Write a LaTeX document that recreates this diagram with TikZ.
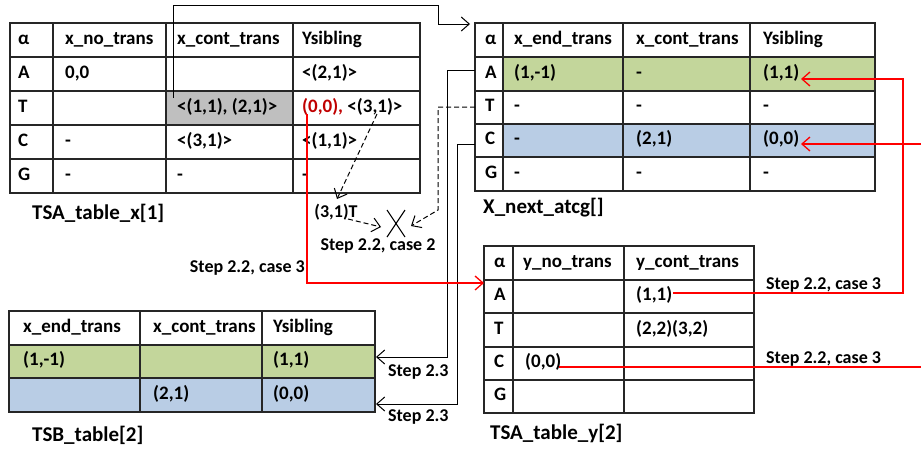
\documentclass[tikz,border=0pt]{standalone}
\usepackage{fontspec}
\setmainfont{Carlito}
\usetikzlibrary{arrows.meta}
\definecolor{rowgreen}{HTML}{C3D69B}
\definecolor{rowblue}{HTML}{B9CDE5}
\definecolor{cellgray}{HTML}{BFBFBF}
\definecolor{textred}{HTML}{C00000}
\tikzset{
  grid/.style={line width=1.4pt, draw=black!85},
  cell/.style={anchor=west, inner sep=0pt, text height=12pt, text depth=4pt,
               font=\bfseries\fontsize{19}{21}\selectfont},
  caption/.style={anchor=west, inner sep=0pt, font=\bfseries\fontsize{21}{23}\selectfont},
  steplabel/.style={inner sep=0pt, font=\bfseries\fontsize{18}{20}\selectfont},
  tip/.style={-{Straight Barb[length=8pt,width=14pt]}},
  link/.style={line width=1pt, draw=black, tip},
  dlink/.style={line width=1pt, draw=black, dash pattern=on 5pt off 3pt, tip},
  rlink/.style={line width=1.3pt, red},
}
\begin{document}
\begin{tikzpicture}[x=1pt,y=-1pt]
\useasboundingbox (0,0) rectangle (921,450);

% ---------- TSA_table_x[1] ----------
\fill[cellgray] (166,91) rectangle (293,125);
\draw[grid] (10,23) rectangle (420,193);
\foreach \x in {53,166,293} \draw[grid] (\x,23) -- (\x,193);
\foreach \y in {57,91,125,159} \draw[grid] (10,\y) -- (420,\y);
\node[cell] (xa0) at (18,40) {α};
\node[cell] (xa1) at (65,40) {x\_no\_trans};
\node[cell] (xa2) at (177,40) {x\_cont\_trans};
\node[cell] (xa3) at (302,40) {Ysibling};
\node[cell] (xA0) at (18,74) {A};
\node[cell] (xA1) at (65,74) {0,0};
\node[cell] (xA3) at (302,74) {<(2,1)>};
\node[cell] (xT0) at (18,108) {T};
\node[cell] (xT2) at (177,108) {<(1,1), (2,1)>};
\node[cell, text=textred] (xT3r) at (302,108) {(0,0),};
\node[cell] (xT3) at ([xshift=4pt]xT3r.east) {<(3,1)>};
\node[cell] (xC0) at (18,142) {C};
\node[cell] (xC1) at (65,142) {-};
\node[cell] (xC2) at (177,142) {<(3,1)>};
\node[cell] (xC3) at (302,142) {<(1,1)>};
\node[cell] (xG0) at (18,176) {G};
\node[cell] (xG1) at (65,176) {-};
\node[cell] (xG2) at (177,176) {-};
\node[cell] (xG3) at (302,176) {-};
\node[caption] (capx) at (32,213) {TSA\_table\_x[1]};

% ---------- X_next_atcg[] ----------
\fill[rowgreen] (503,57) rectangle (875,91);
\fill[rowblue] (503,124) rectangle (875,157);
\draw[grid] (475,23) rectangle (875,191);
\foreach \x in {503,623,750} \draw[grid] (\x,23) -- (\x,191);
\foreach \y in {57,91,124,157} \draw[grid] (475,\y) -- (875,\y);
\node[cell] (na0) at (485,40) {α};
\node[cell] (na1) at (514,40) {x\_end\_trans};
\node[cell] (na2) at (636,40) {x\_cont\_trans};
\node[cell] (na3) at (763,40) {Ysibling};
\node[cell] (nA0) at (485,74) {A};
\node[cell] (nA1) at (514,74) {(1,-1)};
\node[cell] (nA2) at (636,74) {-};
\node[cell] (nA3) at (763,74) {(1,1)};
\node[cell] (nT0) at (485,107.5) {T};
\node[cell] (nT1) at (514,107.5) {-};
\node[cell] (nT2) at (636,107.5) {-};
\node[cell] (nT3) at (763,107.5) {-};
\node[cell] (nC0) at (485,140.5) {C};
\node[cell] (nC1) at (514,140.5) {-};
\node[cell] (nC2) at (636,140.5) {(2,1)};
\node[cell] (nC3) at (763,140.5) {(0,0)};
\node[cell] (nG0) at (485,174) {G};
\node[cell] (nG1) at (514,174) {-};
\node[cell] (nG2) at (636,174) {-};
\node[cell] (nG3) at (763,174) {-};
\node[caption] (capn) at (483,208) {X\_next\_atcg[]};

% ---------- TSB_table[2] ----------
\fill[rowgreen] (9,345) rectangle (375,378);
\fill[rowblue] (9,378) rectangle (375,412);
\draw[grid] (9,311) rectangle (375,412);
\foreach \x in {140,262} \draw[grid] (\x,311) -- (\x,412);
\foreach \y in {345,378} \draw[grid] (9,\y) -- (375,\y);
\node[cell] (ba1) at (23,328) {x\_end\_trans};
\node[cell] (ba2) at (153,328) {x\_cont\_trans};
\node[cell] (ba3) at (273,328) {Ysibling};
\node[cell] (bg1) at (23,361.5) {(1,-1)};
\node[cell] (bg3) at (273,361.5) {(1,1)};
\node[cell] (bb2) at (153,395) {(2,1)};
\node[cell] (bb3) at (273,395) {(0,0)};
\node[caption] (capb) at (32,435) {TSB\_table[2]};

% ---------- TSA_table_y[2] ----------
\draw[grid] (484,246) rectangle (754,413);
\foreach \x in {513,624} \draw[grid] (\x,246) -- (\x,413);
\foreach \y in {280,313,347,380} \draw[grid] (484,\y) -- (754,\y);
\node[cell] (ya0) at (494,263) {α};
\node[cell] (ya1) at (523,263) {y\_no\_trans};
\node[cell] (ya2) at (636,263) {y\_cont\_trans};
\node[cell] (yA0) at (494,296.5) {A};
\node[cell] (yA2) at (636,296.5) {(1,1)};
\node[cell] (yT0) at (494,330) {T};
\node[cell] (yT2) at (636,330) {(2,2)(3,2)};
\node[cell] (yC0) at (494,363.5) {C};
\node[cell] (yC1) at (525,363.5) {(0,0)};
\node[cell] (yG0) at (494,396.5) {G};
\node[caption] (capy) at (490,433) {TSA\_table\_y[2]};

% ---------- labels ----------
\node[steplabel] (t31) at (336,212) {(3,1)T};
\node[steplabel] (case2) at (378,246) {Step 2.2, case 2};
\node[steplabel, anchor=east] (case3a) at (305,268) {Step 2.2, case 3};
\node[steplabel, anchor=west] (case3b) at (766,285) {Step 2.2, case 3};
\node[steplabel, anchor=west] (case3c) at (766,359) {Step 2.2, case 3};
\node[steplabel, anchor=west] (s23a) at (388,372) {Step 2.3};
\node[steplabel, anchor=west] (s23b) at (388,417) {Step 2.3};

% the crossed-out mark
\coordinate (xm) at (396,223.5);
\draw[line width=1.1pt] ([shift={(-9,-13.5)}]xm) -- ([shift={(9,13.5)}]xm)
                        ([shift={(9,-13.5)}]xm) -- ([shift={(-9,13.5)}]xm);

% ---------- connectors ----------
\coordinate (xTfrom) at (173,98);
\coordinate (nTop) at (470,24);
\draw[link] (xTfrom) -- (173,5) -- (438,5) -- (438,24) -- (nTop);

\coordinate (nAl) at (475,70);
\coordinate (bgIn) at (376,357);
\draw[link] (nAl) -- (447,70) -- (447,357) -- (bgIn);
\coordinate (nCl) at (475,144);
\coordinate (bbIn) at (376,404);
\draw[link] (nCl) -- (457,144) -- (457,404) -- (bbIn);

\coordinate (nTl) at (475,107);
\coordinate (xmR) at (411,226);
\draw[dlink] (nTl) -- (438,107) -- (438,210) -- (xmR);
\coordinate (x31) at (377,114);
\coordinate (t31top) at (337,199);
\draw[dlink] (x31) -- (t31top);
\coordinate (t31r) at (348,219);
\coordinate (xmL) at (381,227);
\draw[dlink] (t31r) -- (xmL);

% red links
\coordinate (x00) at (307,114);
\coordinate (yIn) at (484,283);
\draw[rlink, tip] (x00) -- (307,283) -- (yIn);
\coordinate (yA2r) at (673,293);
\coordinate (nA3r) at (801,79);
\draw[rlink, tip] (yA2r) -- (903,293) -- (903,79) -- (nA3r);
\coordinate (yC1r) at (559,367);
\coordinate (edgeLow) at (921,367);
\draw[rlink] (yC1r) -- (edgeLow);
\coordinate (edgeHigh) at (921,144);
\coordinate (nC3r) at (801,144);
\draw[rlink, tip] (edgeHigh) -- (nC3r);
\end{tikzpicture}
\end{document}
